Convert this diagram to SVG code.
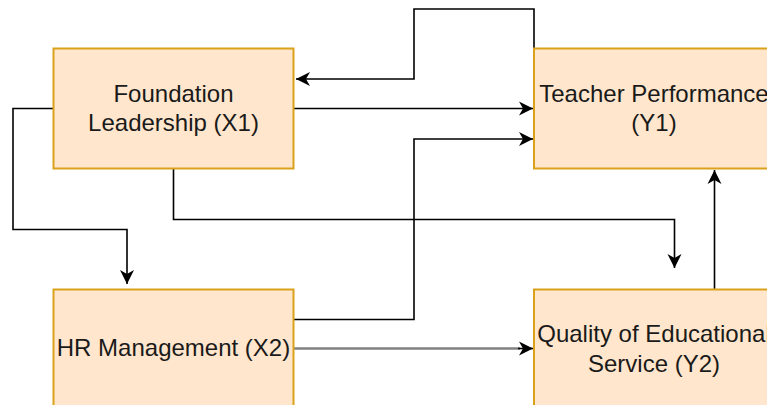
<svg xmlns="http://www.w3.org/2000/svg" width="767" height="405" viewBox="0 0 767 405">
<style>
.box{fill:#ffe6cc;stroke:#d9a21a;stroke-width:2}
.lbl{font-family:"Liberation Sans",Arial,Helvetica,sans-serif;font-size:24px;fill:#1a1a1a;text-anchor:middle}
.c{fill:none;stroke:#000;stroke-width:1.6}
.g{fill:none;stroke:#808080;stroke-width:2.4}
</style>
<defs>
<marker id="ah" markerUnits="userSpaceOnUse" markerWidth="16" markerHeight="16" viewBox="0 0 16 16" refX="15" refY="8" orient="auto">
<path d="M1,1 L15,8 L1,15 L5,8 z" fill="#000"/>
</marker>
</defs>
<rect width="767" height="405" fill="#fff"/>
<g id="connectors">
<path class="c" d="M534,48 L534,9 L414,9 L414,79 L296,79" marker-end="url(#ah)"/>
<path class="c" d="M294,108.5 L533,108.5" marker-end="url(#ah)"/>
<path class="c" d="M294,319.5 L414,319.5 L414,139 L533,139" marker-end="url(#ah)"/>
<path class="c" d="M53,108.5 L13,108.5 L13,229.5 L127,229.5 L127,284" marker-end="url(#ah)"/>
<path class="c" d="M173.5,169 L173.5,219.5 L674.5,219.5 L674.5,268" marker-end="url(#ah)"/>
<path class="g" d="M294,348.5 L520,348.5"/>
<path class="c" d="M518,348.5 L533,348.5" marker-end="url(#ah)"/>
<path class="c" d="M714.5,289 L714.5,170" marker-end="url(#ah)"/>
</g>
<g id="x1">
<rect class="box" x="53.5" y="48.5" width="240" height="120"/>
<text class="lbl" x="173.5" y="101.5">Foundation</text>
<text class="lbl" x="173.5" y="131">Leadership (X1)</text>
</g>
<g id="y1">
<rect class="box" x="534" y="48.5" width="240" height="120"/>
<text class="lbl" x="654" y="101.5">Teacher Performance</text>
<text class="lbl" x="654" y="131">(Y1)</text>
</g>
<g id="x2">
<rect class="box" x="53.5" y="289.5" width="240" height="120"/>
<text class="lbl" x="173.5" y="356">HR Management (X2)</text>
</g>
<g id="y2">
<rect class="box" x="534" y="289.5" width="240" height="120"/>
<text class="lbl" x="654" y="341.5">Quality of Educational</text>
<text class="lbl" x="654" y="371.5">Service (Y2)</text>
</g>
</svg>
